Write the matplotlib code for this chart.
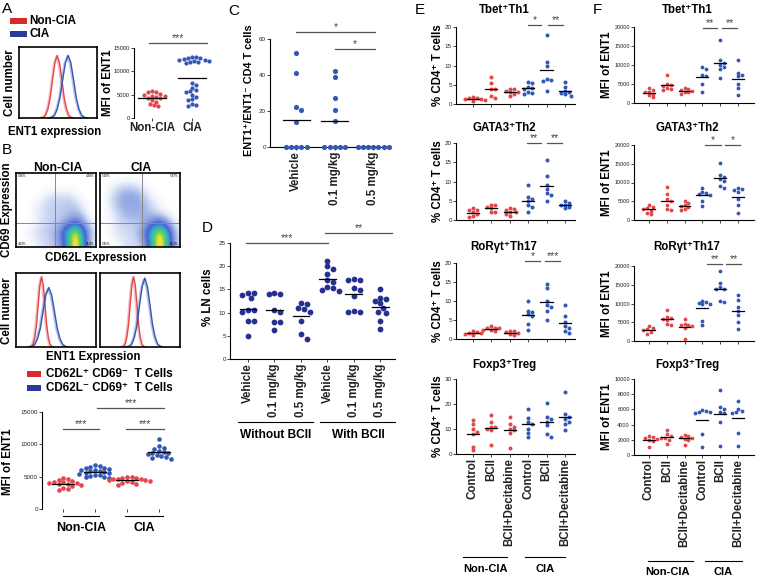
import numpy as np
import matplotlib.pyplot as plt
from matplotlib.lines import Line2D
from matplotlib.patches import Rectangle
from matplotlib.colors import LinearSegmentedColormap

plt.rcParams['font.family'] = ['Liberation Sans', 'DejaVu Sans']

W, H = 757, 577
RED = '#E2474B'
BLUE = '#3457B5'
NAVY = '#25308F'
LBL = 8.3   # bold label size

# ---- data ----
# A: MFI of ENT1
a_noncia = [5800, 5500, 5500, 5200, 5000, 4800, 4700, 4500, 4300, 4200, 3800, 3500, 3000, 2800, 2500]
a_cia = [13000, 13000, 12800, 12800, 12700, 12500, 12500, 12300, 12200, 12000, 12000, 11800,
         7500, 7000, 6500, 6000, 5800, 5500, 5000, 4500, 4000, 3800, 3000, 2800, 2500]

# histogram curves: (center, width, height) in box units 0-100 / 0-1
hist_profile = [0, .01, .04, .14, .32, .61, .88, 1, .88, .61, .32, .14, .04, .01, 0]
hist_offsets = [-3.5, -3, -2.5, -2, -1.5, -1, -0.5, 0, 0.5, 1, 1.5, 2, 2.5, 3, 3.5]
a_hist = [(49, 6.0, 0.9, RED), (63, 7.0, 0.9, BLUE)]
b_hist_left = [(32, 4.2, 0.97, RED), (41, 7.0, 0.82, BLUE)]
b_hist_right = [(42, 4.2, 0.97, RED), (56, 6.5, 0.95, BLUE)]

# B: flow density grids (rows top -> bottom)
flow_left = [
    [0, 0, 0, 0, 0, 0, 0, 0, 0, 0],
    [0, 0, 0, 0, 0, 0, 0, 0, 0, 0],
    [0, 0, 0, .03, .06, .06, .06, .03, 0, 0],
    [0, 0, .03, .06, .08, .08, .1, .08, .03, 0],
    [0, 0, .03, .06, .08, .08, .1, .12, .06, 0],
    [0, 0, .03, .06, .08, .1, .2, .35, .15, .03],
    [0, .03, .06, .08, .1, .2, .55, .9, .35, .06],
    [0, 0, .03, .06, .08, .15, .45, 1.0, .35, .03],
]
flow_right = [
    [0, 0, 0, 0, 0, 0, 0, 0, 0, 0],
    [0, .03, .06, .08, .06, .03, 0, 0, 0, 0],
    [0, .06, .12, .15, .15, .08, .03, 0, 0, 0],
    [0, .06, .12, .15, .15, .12, .06, .03, 0, 0],
    [0, .03, .08, .12, .12, .12, .1, .06, .03, 0],
    [0, .03, .06, .08, .08, .12, .25, .35, .15, .03],
    [0, .03, .06, .06, .08, .2, .55, .9, .45, .06],
    [0, 0, .03, .06, .06, .12, .45, 1.0, .45, .06],
]
flow_quads_left = ['0.26%', '4.38%', '4.03%', '89.4%']
flow_quads_right = ['5.20%', '5.47%', '3.45%', '82.2%']

b_groups = [
    [4800, 4600, 4500, 4300, 4200, 4100, 4000, 4000, 3900, 3800, 3700, 3500, 3300, 3100, 3000],
    [6800, 6600, 6500, 6400, 6300, 6200, 6000, 6000, 5900, 5800, 5700, 5600, 5500, 5400,
     5300, 5200, 5100, 5000, 4900, 4800],
    [5000, 4900, 4800, 4800, 4700, 4600, 4600, 4500, 4500, 4400, 4300, 4200, 4000, 3800, 3700],
    [10800, 9700, 9500, 9300, 9000, 8800, 8700, 8600, 8500, 8400, 8200, 8000, 7900, 7800],
]

# C
c_labels = ['Vehicle', '0.1 mg/kg', '0.5 mg/kg']
c_groups = [
    [52, 41, 22, 20.5, 14, 0, 0, 0, 0, 0],
    [42.5, 39, 27.5, 20.5, 14.5, 0, 0, 0, 0, 0],
    [0, 0, 0, 0, 0, 0, 0],
]

# D
d_labels = ['Vehicle', '0.1 mg/kg', '0.5 mg/kg'] * 2
d_groups = [
    [14.2, 14.2, 13.8, 13.1, 10.6, 10.6, 10.2, 8.1, 8.1, 5.0],
    [14.0, 14.0, 14.3, 10.6, 10.2, 8.0, 8.0, 6.2],
    [12.1, 11.8, 11.0, 10.8, 10.2, 8.2, 5.3, 4.4],
    [21.2, 20.0, 19.5, 18.3, 17.0, 16.6, 15.6, 15.2, 14.8, 14.6],
    [17.2, 17.0, 17.0, 15.3, 14.8, 13.5, 10.3, 10.1, 10.2],
    [15.0, 13.2, 13.0, 12.5, 12.0, 11.0, 10.0, 10.2, 8.2, 6.5],
]

# E: % CD4+ T cells
e_labels = ['Control', 'BCII', 'BCII+Decitabine'] * 2
e_titles = ['Tbet⁺Th1', 'GATA3⁺Th2', 'RoRγt⁺Th17', 'Foxp3⁺Treg']
e_data = [
    [[1.8, 1.5, 1.2, 1.0, 0.8, 1.5, 1.3],
     [7, 5.5, 4, 3.8, 2, 1.5],
     [4, 3.5, 3, 2.5, 3.2, 2, 3.8],
     [5.8, 5.5, 4.5, 4, 3, 2.5, 2.8, 4.2],
     [17.8, 11, 10, 6.5, 6, 3.5, 6.2],
     [5.8, 4.5, 3.5, 2.5, 2.8, 2.2, 3]],
    [[3, 2.5, 2, 1.5, 1, 0.8, 2.5],
     [4, 4, 3.5, 3, 2, 2],
     [3, 2.5, 2, 1.5, 1, 2.8, 2],
     [9, 6, 5.5, 4, 3.5, 2, 5],
     [15.5, 11.5, 9, 8, 7, 5, 6.5],
     [5, 4, 3.5, 3, 3.8, 4.5]],
    [[2, 1.5, 1.2, 1, 1.5, 1.8],
     [3.5, 3, 2.5, 2.5, 2, 3, 2.8],
     [2.2, 2, 1.5, 1, 1.2, 1.8],
     [10, 7.5, 7, 6, 4, 2.5, 6.5],
     [14.5, 13.5, 10, 8.5, 7.5, 5, 9],
     [9, 6, 4.5, 3, 2, 1.5, 3.5]],
    [[13.5, 12, 10, 8, 3, 1.5, 9],
     [15.5, 13, 11, 10, 9.5, 3.5, 11],
     [15, 12, 10, 9.5, 8.5, 2.5, 11],
     [18, 14.5, 13, 12, 8.5, 7, 10],
     [20.5, 15, 14, 13, 8, 7, 11.5],
     [25, 16, 15, 14, 9.5, 12, 13]],
]
e_ylims = [20, 20, 20, 30]
e_yticks = [[0, 5, 10, 15, 20]] * 3 + [[0, 10, 20, 30]]

# F: MFI of ENT1
f_data = [
    [[4000, 3500, 3000, 2500, 2000, 1500, 2800],
     [7300, 5000, 4500, 4000, 3500, 4800, 3800],
     [4000, 3800, 3500, 3000, 2500, 2800, 3200],
     [9500, 9000, 7500, 7000, 5000, 2800],
     [16500, 11200, 10500, 9500, 9000, 6500, 10000],
     [11200, 8000, 7500, 7000, 5000, 4000, 2000]],
    [[4000, 3500, 3000, 2500, 2000, 1500, 3200],
     [8800, 7000, 5200, 4000, 3000, 2800, 5500],
     [5200, 4500, 3800, 3500, 3000, 2800, 4000],
     [8500, 7500, 7000, 6800, 5000, 3800, 7200],
     [15300, 12000, 11500, 11000, 10500, 9000, 8500],
     [8500, 8200, 8000, 7500, 5500, 4000, 2000]],
    [[4000, 3500, 3000, 2500, 2000, 3200],
     [8200, 6500, 6000, 5500, 4500, 4200, 6200],
     [5800, 4500, 4200, 4000, 3500, 500, 4200],
     [10800, 10500, 10200, 9800, 5300, 4200, 10000],
     [18800, 15500, 14500, 14000, 13800, 10500, 10800],
     [12200, 11000, 9000, 8000, 7000, 5200, 3200]],
    [[2500, 2300, 2100, 2000, 1800, 1100, 2400],
     [3300, 2700, 2500, 2300, 2000, 1500, 2200],
     [2600, 2500, 2300, 2100, 2000, 1300, 2400],
     [5900, 5800, 5700, 5500, 2800, 1000, 5600],
     [8500, 6300, 6000, 5700, 4300, 1200, 5500],
     [7100, 6100, 5800, 5500, 2900, 1200, 5700]],
]
f_ylims = [20000, 20000, 20000, 10000]
f_yticks = [[0, 5000, 10000, 15000, 20000]] * 3 + [[0, 2000, 4000, 6000, 8000, 10000]]

# ---- helpers ----
fig = plt.figure(figsize=(W / 100, H / 100), dpi=100)


def px_ax(l, t, r, b):
    return fig.add_axes([l / W, 1 - b / H, (r - l) / W, (b - t) / H])


def ftext(x, y, s, size=LBL, weight='bold', ha='center', va='center', **kw):
    fig.text(x / W, 1 - y / H, s, fontsize=size, fontweight=weight, ha=ha, va=va, **kw)


def fline(x0, x1, y, lw=0.8, color='k'):
    fig.add_artist(Line2D([x0 / W, x1 / W], [1 - y / H] * 2, color=color, lw=lw))


def sig(x0, x1, y, stars):
    fline(x0, x1, y, lw=0.9, color='#555')
    ftext((x0 + x1) / 2, y - 1.5, stars, size=7.5, weight='normal', va='baseline', color='#444')


def patch(x0, y0, x1, y1, color):
    fig.add_artist(Rectangle((x0 / W, 1 - y1 / H), (x1 - x0) / W, (y1 - y0) / H,
                             transform=fig.transFigure, color=color, lw=0))


def swarm(vals, ppu_y, ppu_x, d):
    vals = np.asarray(vals, float)
    ys = vals * ppu_y
    offs = np.zeros(len(vals))
    placed = []
    steps = [0]
    for k in range(1, 14):
        steps += [k, -k]
    for i in np.argsort(-vals, kind='stable'):
        for k in steps:
            x = k * d * 0.5
            if all((x - px) ** 2 + (ys[i] - py) ** 2 >= (0.9 * d) ** 2 for px, py in placed):
                break
        placed.append((x, ys[i]))
        offs[i] = x / ppu_x
    return offs


def dotplot(ax, groups, colors, ppu_x, d, hw=0.33):
    y0, y1 = ax.get_ylim()
    ppu_y = ax.get_position().height * H / (y1 - y0)
    for i, (vals, c) in enumerate(zip(groups, colors)):
        off = swarm(vals, ppu_y, ppu_x, d)
        ax.scatter(i + off, vals, s=(d * 0.72) ** 2, color=c, lw=0, zorder=3, clip_on=False)
        m = np.mean(vals)
        ax.plot([i - hw, i + hw], [m, m], color='k', lw=0.9, zorder=4)


def style(ax, xlim, ylim, yticks, bottom=True):
    ax.set_xlim(*xlim)
    ax.set_ylim(*ylim)
    ax.set_yticks(yticks)
    ax.spines['top'].set_visible(False)
    ax.spines['right'].set_visible(False)
    ax.spines['bottom'].set_visible(bottom)
    ax.spines['left'].set_linewidth(0.8)
    ax.spines['bottom'].set_linewidth(0.8)
    ax.tick_params(length=2, width=0.6, labelsize=4.5, pad=1, colors='#222')


def box(ax):
    ax.set_xticks([])
    ax.set_yticks([])
    for s in ax.spines.values():
        s.set_linewidth(1.2)


def draw_hist(ax, curves):
    for c, w, h, col in curves:
        xs = [c + o * w for o in hist_offsets]
        ys = [p * h for p in hist_profile]
        ax.plot([x - 1.2 for x in xs], [y * 0.98 for y in ys], color=col, lw=1.6, alpha=0.35)
        ax.plot(xs, ys, color=col, lw=1.0)
    ax.set_xlim(0, 100)
    ax.set_ylim(0, 1.02)
    box(ax)


# ---- panel A ----
ftext(2, 9, 'A', size=11, weight='normal', ha='left')
patch(10, 18, 27, 24, '#D92B2B')
ftext(29, 21, 'Non-CIA', size=8.5, ha='left')
patch(10, 31, 27, 37, '#2B3A9A')
ftext(29, 34, 'CIA', size=8.5, ha='left')

ax = px_ax(19, 47, 97, 118)
draw_hist(ax, a_hist)
ftext(10, 83, 'Cell number', rotation=90)
ftext(55, 132, 'ENT1 expression')

ax = px_ax(134, 48, 210, 118)
style(ax, (-0.45, 1.45), (0, 15000), [0, 5000, 10000, 15000], bottom=False)
ax.tick_params(labelsize=4.2)
dotplot(ax, [a_noncia, a_cia], [RED, BLUE], 40, 4.2, hw=0.35)
ax.set_xticks([0, 1])
ax.set_xticklabels(['Non-CIA', 'CIA'], fontsize=LBL, fontweight='bold')
ftext(108, 83, 'MFI of ENT1', rotation=90)
sig(149, 207, 43, '***')

# ---- panel B ----
ftext(2, 150, 'B', size=11, weight='normal', ha='left')
ftext(58, 168, 'Non-CIA', size=8.8)
ftext(141, 168, 'CIA', size=8.8)

flow_cmap = LinearSegmentedColormap.from_list('flow', [
    (0, 'white'), (0.03, '#eef2fb'), (0.12, '#9fb2e6'), (0.3, '#4a66cf'),
    (0.5, '#2fb8c9'), (0.66, '#62d050'), (0.8, '#f2e43a'), (0.9, '#f39a2b'), (1, '#e0302a')])
for (l, r), grid, qx, quads in [((16, 96), flow_left, 0.49, flow_quads_left),
                                ((100, 180), flow_right, 0.52, flow_quads_right)]:
    ax = px_ax(l, 173, r, 247)
    ax.imshow(grid, extent=[0, 1, 0, 1], cmap=flow_cmap, vmin=0, vmax=1,
              interpolation='bicubic', aspect='auto')
    ax.axvline(qx, color='#888', lw=0.7)
    ax.axhline(0.32, color='#888', lw=0.7)
    for (tx, ty, ha, va), q in zip([(0.02, 0.98, 'left', 'top'), (0.98, 0.98, 'right', 'top'),
                                    (0.02, 0.02, 'left', 'bottom'), (0.98, 0.02, 'right', 'bottom')],
                                   quads):
        ax.text(tx, ty, q, fontsize=2.2, ha=ha, va=va, transform=ax.transAxes)
    ax.set_xlim(0, 1)
    ax.set_ylim(0, 1)
    box(ax)
ftext(7, 210, 'CD69 Expression', rotation=90)
ftext(96, 258, 'CD62L Expression')

ax = px_ax(16, 273, 96, 347)
draw_hist(ax, b_hist_left)
ax = px_ax(100, 273, 180, 347)
draw_hist(ax, b_hist_right)
ftext(7, 311, 'Cell number', rotation=90)
ftext(93, 357, 'ENT1 Expression')

patch(27, 371, 41, 377, '#D92B2B')
ftext(46, 374, 'CD62L⁺ CD69⁻  T Cells', size=8.4, ha='left')
patch(27, 385, 41, 391, '#2B3A9A')
ftext(46, 388, 'CD62L⁻ CD69⁺  T Cells', size=8.4, ha='left')

ax = px_ax(42, 412, 175, 509)
style(ax, (-0.66, 3.5), (0, 15000), [0, 5000, 10000, 15000], bottom=False)
dotplot(ax, b_groups, [RED, BLUE, RED, BLUE], 32, 4.6, hw=0.35)
ax.set_xticks([0, 1, 2, 3])
ax.set_xticklabels([])
ftext(8, 462, 'MFI of ENT1', rotation=90)
sig(63, 99, 429, '***')
sig(126, 164, 429, '***')
sig(97, 164, 408, '***')
fline(63, 99, 516)
fline(125, 163, 516)
ftext(81, 528, 'Non-CIA', size=9)
ftext(144, 528, 'CIA', size=9)

# ---- panel C ----
ftext(228, 11, 'C', size=11, weight='normal', ha='left')
ax = px_ax(270, 39, 381, 147)
style(ax, (-0.68, 2.2), (0, 60), [0, 20, 40, 60])
dotplot(ax, c_groups, [BLUE] * 3, 38.5, 5.2, hw=0.35)
ax.set_xticks([0, 1, 2])
ax.set_xticklabels(c_labels, rotation=90, fontsize=LBL, fontweight='bold')
ftext(249, 90, 'ENT1⁺/ENT1⁻ CD4 T cells', rotation=90, size=7.8)
sig(296, 375, 32, '*')
sig(335, 375, 49, '*')

# ---- panel D ----
ftext(202, 228, 'D', size=11, weight='normal', ha='left')
ax = px_ax(230, 243, 395, 359)
style(ax, (-0.68, 5.55), (0, 25), [0, 5, 10, 15, 20, 25])
dotplot(ax, d_groups, [NAVY] * 6, 26.5, 5.8, hw=0.32)
ax.set_xticks(range(6))
ax.set_xticklabels(d_labels, rotation=90, fontsize=LBL, fontweight='bold')
ftext(208, 297, '% LN cells', rotation=90)
sig(246, 328, 243, '***')
sig(325, 392, 233, '**')
fline(238, 313, 422)
fline(320, 395, 422)
ftext(276, 435, 'Without BCII', size=8.6)
ftext(358, 435, 'With BCII', size=8.6)

# ---- panels E and F ----
ftext(415, 10, 'E', size=11, weight='normal', ha='left')
ftext(593, 10, 'F', size=11, weight='normal', ha='left')
e_rows = [(27, 104), (143, 220), (263, 339), (379, 454)]
f_rows = [(27, 103), (145, 220), (266, 341), (379, 455)]
title_y = [10, 128, 247, 365]
six_colors = [RED] * 3 + [BLUE] * 3

for k in range(4):
    t, b = e_rows[k]
    ax = px_ax(456, t, 575, b)
    style(ax, (-0.91, 5.54), (0, e_ylims[k]), e_yticks[k])
    dotplot(ax, e_data[k], six_colors, 18.6, 4.0, hw=0.33)
    ax.set_xticks(range(6))
    if k == 3:
        ax.set_xticklabels(e_labels, rotation=90, fontsize=LBL, fontweight='bold')
    else:
        ax.set_xticklabels([])
    ftext(504, title_y[k], e_titles[k], size=8.3)
    ftext(438, (t + b) / 2, '% CD4⁺ T cells', rotation=90)

    t, b = f_rows[k]
    ax = px_ax(634, t, 754, b)
    style(ax, (-0.84, 5.9), (0, f_ylims[k]), f_yticks[k])
    ax.tick_params(labelsize=4)
    dotplot(ax, f_data[k], six_colors, 17.8, 3.8, hw=0.33)
    ax.set_xticks(range(6))
    if k == 3:
        ax.set_xticklabels(e_labels, rotation=90, fontsize=LBL, fontweight='bold')
    else:
        ax.set_xticklabels([])
    ftext(687, title_y[k], e_titles[k], size=8.3)
    ftext(607, (t + b) / 2, 'MFI of ENT1', rotation=90)

for x0, x1, y, s in [(528, 541, 25, '*'), (548, 563, 25, '**'),
                     (527, 541, 143, '**'), (547, 562, 143, '**'),
                     (525, 540, 261, '*'), (545, 560, 261, '***'),
                     (703, 717, 28, '**'), (722, 737, 28, '**'),
                     (705, 721, 145, '*'), (725, 740, 145, '*'),
                     (707, 722, 264, '**'), (726, 741, 264, '**')]:
    sig(x0, x1, y, s)

fline(463, 507, 557)
fline(525, 565, 557)
ftext(485, 569, 'Non-CIA', size=8)
ftext(545, 569, 'CIA', size=8)
fline(648, 693, 561)
fline(705, 742, 561)
ftext(668, 572, 'Non-CIA', size=8)
ftext(723, 572, 'CIA', size=8)

fig.savefig('out.png', dpi=100, facecolor='white')
